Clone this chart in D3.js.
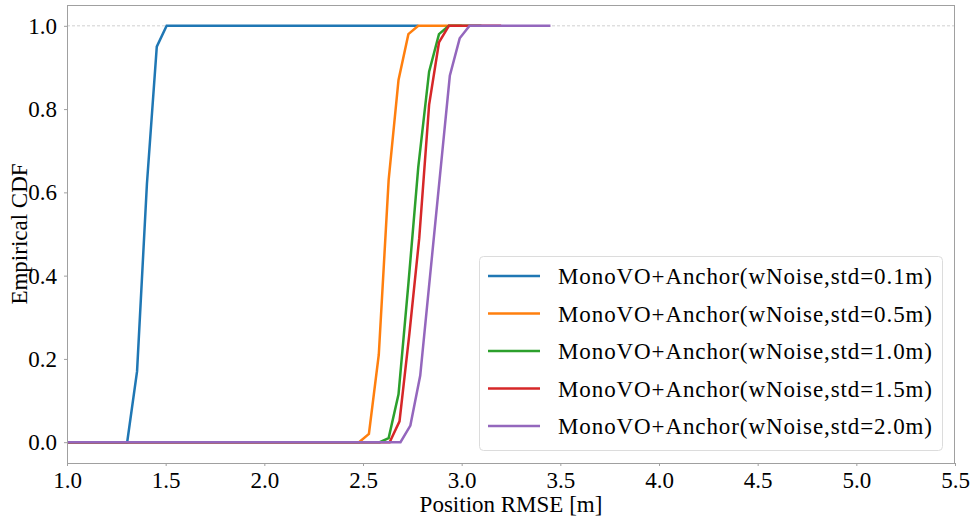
<!DOCTYPE html>
<html>
<head>
<meta charset="utf-8">
<script src="https://cdn.jsdelivr.net/npm/d3@7"></script>
<style>
  html, body { margin: 0; padding: 0; background: #fff; }
  svg { display: block; }
  text { font-family: "Liberation Serif", "Times New Roman", "DejaVu Serif", serif; fill: #000; }
</style>
</head>
<body>
<svg id="chart" width="973" height="521"></svg>
<script>
// ---- data ----
const seriesNames = [
  "MonoVO+Anchor(wNoise,std=0.1m)",
  "MonoVO+Anchor(wNoise,std=0.5m)",
  "MonoVO+Anchor(wNoise,std=1.0m)",
  "MonoVO+Anchor(wNoise,std=1.5m)",
  "MonoVO+Anchor(wNoise,std=2.0m)"
];
const seriesColors = ["#1f77b4", "#ff7f0e", "#2ca02c", "#d62728", "#9467bd"];

const rmse01 = [1.0, 1.305, 1.355, 1.405, 1.455, 1.505, 2.78];
const cdf01  = [0.0, 0.0,   0.17,  0.62,  0.95,  1.0,   1.0];

const rmse05 = [1.0, 2.48, 2.53, 2.58, 2.63, 2.68, 2.73, 2.78, 3.0];
const cdf05  = [0.0, 0.0,  0.02, 0.21, 0.63, 0.87, 0.98, 1.0,  1.0];

const rmse10 = [1.0, 2.585, 2.63, 2.68, 2.73, 2.78, 2.835, 2.885, 2.935, 3.1];
const cdf10  = [0.0, 0.0,   0.01, 0.115, 0.38, 0.66, 0.89, 0.98,  1.0,   1.0];

const rmse15 = [1.0, 2.635, 2.685, 2.735, 2.785, 2.835, 2.885, 2.935, 3.2];
const cdf15  = [0.0, 0.0,   0.05,  0.26,  0.49,  0.81,  0.96,  1.0,   1.0];

const rmse20 = [1.0, 2.69, 2.74, 2.79, 2.84, 2.89, 2.94, 2.99, 3.04, 3.45];
const cdf20  = [0.0, 0.0,  0.04, 0.16, 0.40, 0.64, 0.88, 0.97, 1.0,  1.0];

const xTicks = [1.0, 1.5, 2.0, 2.5, 3.0, 3.5, 4.0, 4.5, 5.0, 5.5];
const yTicks = [0.0, 0.2, 0.4, 0.6, 0.8, 1.0];
const xLabel = "Position RMSE [m]";
const yLabel = "Empirical CDF";

const allX = [rmse01, rmse05, rmse10, rmse15, rmse20];
const allY = [cdf01, cdf05, cdf10, cdf15, cdf20];
const series = seriesNames.map((name, i) => ({
  name, color: seriesColors[i],
  points: allX[i].map((x, j) => [x, allY[i][j]])
}));

// ---- layout ----
const W = 973, H = 521;
const m = { left: 67, right: 18, top: 5, bottom: 58 };
const svg = d3.select("#chart");
const FS = 23;
const FONT = "Liberation Serif, Times New Roman, DejaVu Serif, serif";
const spineColor = "#a0a0a0";

const x = d3.scaleLinear().domain([1.0, 5.5]).range([m.left, W - m.right]);
const y = d3.scaleLinear().domain([-0.05, 1.05]).range([H - m.bottom, m.top]);

// clip
svg.append("defs").append("clipPath").attr("id", "clip")
  .append("rect").attr("x", m.left).attr("y", m.top)
  .attr("width", W - m.left - m.right).attr("height", H - m.top - m.bottom);

// reference dashed line at 1.0
svg.append("line")
  .attr("x1", x(1.0)).attr("x2", x(5.5))
  .attr("y1", y(1.0)).attr("y2", y(1.0))
  .attr("stroke", "#d0d0d0").attr("stroke-width", 1)
  .attr("stroke-dasharray", "3,2");

// lines
const line = d3.line().x(d => x(d[0])).y(d => y(d[1]));
const g = svg.append("g").attr("clip-path", "url(#clip)");
series.forEach(s => {
  g.append("path").datum(s.points)
    .attr("d", line)
    .attr("fill", "none")
    .attr("stroke", s.color)
    .attr("stroke-width", 2.5)
    .attr("stroke-linejoin", "miter");
});

// axes
const xAxis = svg.append("g")
  .attr("transform", `translate(0,${H - m.bottom})`)
  .call(d3.axisBottom(x).tickValues(xTicks).tickFormat(d3.format(".1f")).tickSize(3).tickPadding(6));
const yAxis = svg.append("g")
  .attr("transform", `translate(${m.left},0)`)
  .call(d3.axisLeft(y).tickValues(yTicks).tickFormat(d3.format(".1f")).tickSize(3).tickPadding(7));
[xAxis, yAxis].forEach(a => {
  a.attr("font-family", FONT);
  a.selectAll(".domain").remove();
  a.selectAll(".tick line").attr("stroke", spineColor);
  a.selectAll(".tick text").attr("font-size", FS).attr("font-family", FONT).attr("fill", "#000");
});

// spines
svg.append("rect")
  .attr("x", m.left + 0.5).attr("y", m.top + 0.5)
  .attr("width", W - m.left - m.right - 1).attr("height", H - m.top - m.bottom)
  .attr("fill", "none").attr("stroke", spineColor).attr("stroke-width", 1);

// axis labels
svg.append("text")
  .attr("x", (m.left + W - m.right) / 2).attr("y", 512)
  .attr("text-anchor", "middle").attr("font-size", FS)
  .text(xLabel);
svg.append("text")
  .attr("transform", `translate(27,${(m.top + H - m.bottom) / 2}) rotate(-90)`)
  .attr("text-anchor", "middle").attr("font-size", FS)
  .text(yLabel);

// legend
const leg = svg.append("g");
leg.append("rect")
  .attr("x", 479.5).attr("y", 256.5).attr("width", 463).attr("height", 194)
  .attr("rx", 4).attr("ry", 4)
  .attr("fill", "rgba(255,255,255,0.85)").attr("stroke", "#dcdcdc").attr("stroke-width", 1);
const rowY = d3.scaleLinear().domain([0, 4]).range([276, 426]);
series.forEach((s, i) => {
  const yy = rowY(i);
  leg.append("line")
    .attr("x1", 488).attr("x2", 540).attr("y1", yy).attr("y2", yy)
    .attr("stroke", s.color).attr("stroke-width", 2.5);
  leg.append("text")
    .attr("x", 558).attr("y", yy).attr("dy", "0.35em")
    .attr("font-size", FS).attr("letter-spacing", "0.9px")
    .text(s.name);
});
</script>
</body>
</html>
